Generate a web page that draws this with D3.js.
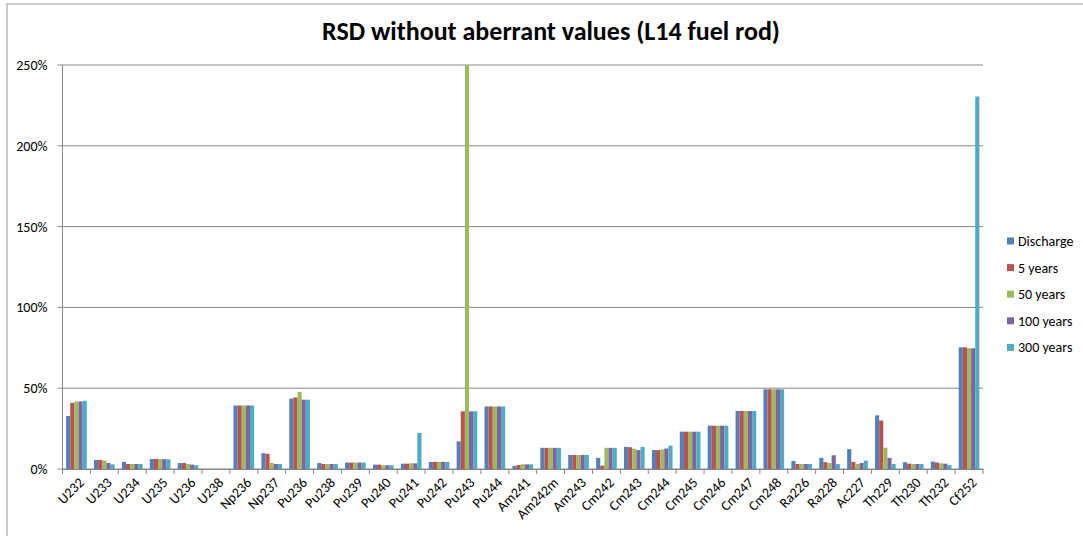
<!DOCTYPE html>
<html>
<head>
<meta charset="utf-8">
<script src="https://cdn.jsdelivr.net/npm/d3@7"></script>
<style>
  body { margin: 0; background: #fff; }
  text { font-family: Carlito, Calibri, Lato, sans-serif; }
</style>
</head>
<body>
<div id="chart"></div>
<script>
// Isotopes on the x axis
var isotopes = ["U232", "U233", "U234", "U235", "U236", "U238", "Np236", "Np237", "Pu236", "Pu238",
  "Pu239", "Pu240", "Pu241", "Pu242", "Pu243", "Pu244", "Am241", "Am242m", "Am243", "Cm242",
  "Cm243", "Cm244", "Cm245", "Cm246", "Cm247", "Cm248", "Ra226", "Ra228", "Ac227", "Th229",
  "Th230", "Th232", "Cf252"];

var seriesNames = ["Discharge", "5 years", "50 years", "100 years", "300 years"];
var seriesColors = ["#4f81bd", "#c0504d", "#9bbb59", "#8064a2", "#4bacc6"];

// RSD values in %
var discharge = [32.8, 5.6, 4.4, 6.2, 3.7, 0, 39.3, 9.8, 43.6, 3.7,
  4.0, 2.7, 3.3, 4.4, 17.1, 38.7, 1.9, 13.1, 8.7, 6.9,
  13.7, 11.7, 23.1, 26.8, 35.9, 49.3, 5.0, 6.9, 12.3, 33.2,
  4.2, 4.6, 75.3];
var years5 = [40.9, 5.6, 3.1, 6.2, 3.7, 0, 39.3, 9.4, 44.3, 3.1,
  4.0, 2.7, 3.3, 4.4, 35.7, 38.7, 2.5, 13.1, 8.7, 2.1,
  13.5, 11.7, 23.1, 26.8, 35.9, 49.3, 3.1, 4.2, 4.4, 30.0,
  3.3, 4.0, 75.3];
var years50 = [41.8, 5.2, 3.1, 6.1, 3.1, 0, 39.3, 3.7, 47.7, 3.1,
  4.0, 2.3, 3.5, 4.4, 260, 38.7, 2.9, 13.1, 8.7, 13.1,
  12.5, 12.1, 23.1, 26.8, 35.9, 49.3, 3.1, 3.7, 3.1, 13.2,
  3.1, 3.5, 74.7];
var years100 = [41.8, 3.7, 3.1, 6.1, 2.7, 0, 39.3, 3.1, 42.9, 3.1,
  4.0, 2.3, 3.5, 4.4, 35.7, 38.7, 2.9, 13.1, 8.7, 13.1,
  11.7, 12.7, 23.1, 26.8, 35.9, 49.3, 3.1, 8.5, 3.7, 6.9,
  3.1, 3.3, 74.7];
var years300 = [42.2, 2.9, 3.1, 6.0, 2.3, 0, 39.3, 3.1, 42.9, 3.1,
  4.0, 2.3, 22.3, 4.4, 35.7, 38.7, 2.9, 13.1, 8.7, 13.1,
  13.7, 14.4, 23.1, 26.8, 35.9, 49.3, 3.1, 3.1, 5.2, 3.1,
  3.1, 2.5, 230.5];

var yTicks = [0, 50, 100, 150, 200, 250];

var allSeries = [discharge, years5, years50, years100, years300];

// Set up chart
var svgWidth = 1083;
var svgHeight = 536;

var margin = { top: 65, left: 62.5 };
var width = 983 - margin.left;
var height = 469 - margin.top;

var svg = d3.select("#chart")
  .append("svg")
  .attr("width", svgWidth)
  .attr("height", svgHeight);

// outer chart border
svg.append("rect")
  .attr("x", 7)
  .attr("y", 4)
  .attr("width", 1200)
  .attr("height", 600)
  .attr("fill", "none")
  .attr("stroke", "#b9b9b9")
  .attr("stroke-width", 1.5);

svg.append("text")
  .attr("x", 551)
  .attr("y", 40)
  .attr("text-anchor", "middle")
  .attr("font-size", "26px")
  .attr("font-weight", "bold")
  .attr("fill", "#000")
  .text("RSD without aberrant values (L14 fuel rod)");

var chartGroup = svg.append("g")
  .attr("transform", `translate(${margin.left}, ${margin.top})`);

var xScale = d3.scaleBand()
  .domain(isotopes)
  .range([0, width]);

var xInner = d3.scaleBand()
  .domain(d3.range(seriesNames.length))
  .range([xScale.bandwidth() * 0.13, xScale.bandwidth() * 0.87]);

var yScale = d3.scaleLinear()
  .domain([0, 250])
  .range([height, 0]);

// gridlines
chartGroup.append("g")
  .selectAll("line")
  .data(yTicks)
  .enter()
  .append("line")
  .attr("x1", -5)
  .attr("x2", width)
  .attr("y1", d => yScale(d))
  .attr("y2", d => yScale(d))
  .attr("stroke", "#868686")
  .attr("stroke-width", 1);

// y axis labels
chartGroup.append("g")
  .selectAll("text")
  .data(yTicks)
  .enter()
  .append("text")
  .attr("x", -15)
  .attr("y", d => yScale(d))
  .attr("dy", "0.35em")
  .attr("text-anchor", "end")
  .attr("font-size", "14px")
  .attr("fill", "#000")
  .text(d => d + "%");

chartGroup.append("line")
  .attr("x1", 0).attr("x2", 0)
  .attr("y1", 0).attr("y2", height)
  .attr("stroke", "#868686");

// clip for bars that go off scale
chartGroup.append("clipPath")
  .attr("id", "plotClip")
  .append("rect")
  .attr("x", 0).attr("y", 0)
  .attr("width", width).attr("height", height);

var barsGroup = chartGroup.append("g").attr("clip-path", "url(#plotClip)");

allSeries.forEach(function(values, s) {
  barsGroup.append("g")
    .selectAll("rect")
    .data(values)
    .enter()
    .append("rect")
    .attr("x", (d, i) => xScale(isotopes[i]) + xInner(s))
    .attr("width", xInner.bandwidth())
    .attr("y", d => yScale(d))
    .attr("height", d => height - yScale(d))
    .attr("fill", seriesColors[s]);
});

// x axis
var bottomAxis = d3.axisBottom(xScale).tickSize(0).tickPadding(0).tickFormat("");
chartGroup.append("g")
  .attr("transform", `translate(0, ${height})`)
  .call(bottomAxis)
  .select(".domain")
  .attr("stroke", "#868686");

chartGroup.append("g")
  .selectAll("line")
  .data(d3.range(isotopes.length + 1))
  .enter()
  .append("line")
  .attr("x1", i => i * xScale.step())
  .attr("x2", i => i * xScale.step())
  .attr("y1", height)
  .attr("y2", height + 5)
  .attr("stroke", "#868686");

chartGroup.append("g")
  .selectAll("text")
  .data(isotopes)
  .enter()
  .append("text")
  .attr("transform", d => `translate(${xScale(d) + xScale.bandwidth() / 2 + 5}, ${height + 11}) rotate(-45)`)
  .attr("text-anchor", "end")
  .attr("dy", "0.35em")
  .attr("font-size", "14px")
  .attr("fill", "#000")
  .text(d => d);

// legend
var legend = svg.append("g")
  .attr("transform", "translate(1007, 241)");

var legendItems = legend.selectAll("g")
  .data(seriesNames)
  .enter()
  .append("g")
  .attr("transform", (d, i) => `translate(0, ${i * 26.6})`);

legendItems.append("rect")
  .attr("x", 0)
  .attr("y", -3.5)
  .attr("width", 7)
  .attr("height", 7)
  .attr("fill", (d, i) => seriesColors[i]);

legendItems.append("text")
  .attr("x", 11)
  .attr("y", 0)
  .attr("dy", "0.35em")
  .attr("font-size", "14px")
  .attr("fill", "#000")
  .text(d => d);
</script>
</body>
</html>
